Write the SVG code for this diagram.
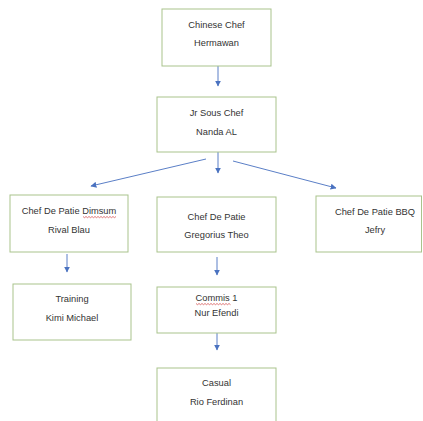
<svg xmlns="http://www.w3.org/2000/svg" width="423" height="421" viewBox="0 0 423 421">
<defs>
<marker id="ah" viewBox="0 0 10 10" refX="9" refY="5" markerWidth="6" markerHeight="6" markerUnits="userSpaceOnUse" orient="auto">
<path d="M0,0 L10,5 L0,10 z" fill="#4a72c0"/>
</marker>
<style>
.box{fill:#ffffff;stroke:#a9c38c;stroke-width:1}
.t{font-family:"Liberation Sans",Arial,sans-serif;font-size:9.3px;fill:#333;text-anchor:middle}
.c{stroke:#5b7fc7;stroke-width:1;fill:none;marker-end:url(#ah)}
.sq{stroke:#d04040;stroke-width:0.7;fill:none}
</style>
</defs>
<rect width="423" height="421" fill="#ffffff"/>
<g id="connectors">
<line class="c" x1="218" y1="66" x2="218" y2="86"/>
<line class="c" x1="218" y1="152" x2="218" y2="173"/>
<line class="c" x1="206" y1="159" x2="91" y2="186"/>
<line class="c" x1="233" y1="161" x2="336" y2="188"/>
<line class="c" x1="67" y1="254" x2="67" y2="272"/>
<line class="c" x1="217" y1="257" x2="217" y2="275"/>
<line class="c" x1="217" y1="333" x2="217" y2="350"/>
</g>
<g id="chinese-chef">
<rect class="box" x="162" y="9" width="109" height="57"/>
<text class="t" x="216.5" y="28">Chinese Chef</text>
<text class="t" x="216.5" y="46">Hermawan</text>
</g>
<g id="jr-sous-chef">
<rect class="box" x="157" y="97" width="119" height="55"/>
<text class="t" x="216.5" y="116">Jr Sous Chef</text>
<text class="t" x="216.5" y="135">Nanda AL</text>
</g>
<g id="chef-dimsum">
<rect class="box" x="10" y="195" width="118" height="57"/>
<text class="t" x="69" y="214">Chef De Patie Dimsum</text>
<path class="sq" d="M83,216.5 l1.5,1.2 l1.5,-1.2 l1.5,1.2 l1.5,-1.2 l1.5,1.2 l1.5,-1.2 l1.5,1.2 l1.5,-1.2 l1.5,1.2 l1.5,-1.2 l1.5,1.2 l1.5,-1.2 l1.5,1.2 l1.5,-1.2 l1.5,1.2 l1.5,-1.2 l1.5,1.2 l1.5,-1.2 l1.5,1.2 l1.5,-1.2 l1.5,1.2 l1.5,-1.2"/>
<text class="t" x="69" y="233">Rival Blau</text>
</g>
<g id="training">
<rect class="box" x="13" y="284" width="118" height="56"/>
<text class="t" x="72" y="302">Training</text>
<text class="t" x="72" y="321">Kimi Michael</text>
</g>
<g id="chef-gregorius">
<rect class="box" x="157" y="197" width="119" height="55"/>
<text class="t" x="216.5" y="220">Chef De Patie</text>
<text class="t" x="216.5" y="238">Gregorius Theo</text>
</g>
<g id="chef-bbq">
<rect class="box" x="316" y="196" width="105.5" height="56"/>
<text class="t" x="375" y="215">Chef De Patie BBQ</text>
<text class="t" x="375" y="233">Jefry</text>
</g>
<g id="commis">
<rect class="box" x="157" y="287" width="119" height="46"/>
<text class="t" x="216.5" y="301">Commis 1</text>
<path class="sq" d="M196,303.5 l1.5,1.2 l1.5,-1.2 l1.5,1.2 l1.5,-1.2 l1.5,1.2 l1.5,-1.2 l1.5,1.2 l1.5,-1.2 l1.5,1.2 l1.5,-1.2 l1.5,1.2 l1.5,-1.2 l1.5,1.2 l1.5,-1.2 l1.5,1.2 l1.5,-1.2 l1.5,1.2 l1.5,-1.2 l1.5,1.2 l1.5,-1.2 l1.5,1.2 l1.5,-1.2 l1.5,1.2"/>
<text class="t" x="216.5" y="316">Nur Efendi</text>
</g>
<g id="casual">
<rect class="box" x="157" y="368" width="119" height="60"/>
<text class="t" x="216.5" y="386">Casual</text>
<text class="t" x="216.5" y="405">Rio Ferdinan</text>
</g>
</svg>
